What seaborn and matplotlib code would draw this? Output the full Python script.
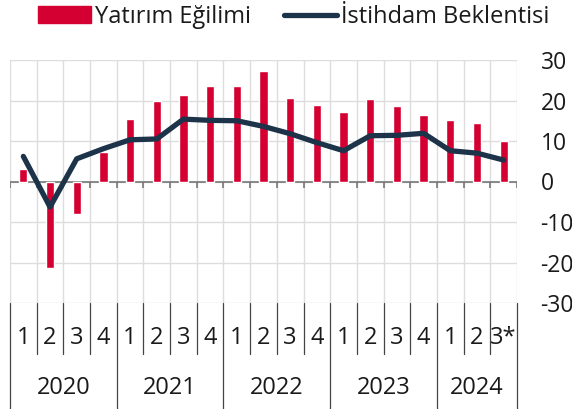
import matplotlib
matplotlib.use('Agg')
import matplotlib.pyplot as plt
from matplotlib.patches import Patch
from matplotlib.lines import Line2D
import numpy as np
import pandas as pd
import seaborn as sns

# data
years = ['2020', '2021', '2022', '2023', '2024']
quarters_per_year = [4, 4, 4, 4, 3]
quarter_labels = ['1', '2', '3', '4', '1', '2', '3', '4', '1', '2', '3', '4',
                  '1', '2', '3', '4', '1', '2', '3*']
yatirim = [3.0, -21.4, -8.0, 7.2, 15.4, 20.0, 21.4, 23.7, 23.6, 27.4, 20.7,
           18.9, 17.1, 20.4, 18.6, 16.5, 15.1, 14.5, 10.0]
istihdam = [6.2, -6.3, 5.6, 8.1, 10.3, 10.5, 15.4, 15.1, 15.0, 13.6, 11.8,
            9.6, 7.6, 11.3, 11.4, 11.9, 7.6, 7.0, 5.3]

RED = '#d50032'
NAVY = '#1c3349'
GRID = '#dddddd'
TXT = '#1a1a1a'

period = []
for y, n in zip(years, quarters_per_year):
    period += [f'{y}-{q}' for q in range(1, n + 1)]
df = pd.DataFrame({'donem': period, 'yatirim': yatirim, 'istihdam': istihdam})

sns.set_style('white')
plt.rcParams['font.family'] = ['Open Sans', 'DejaVu Sans']
plt.rcParams['axes.unicode_minus'] = False

fig = plt.figure(figsize=(5.72, 4.09), dpi=100)
ax = fig.add_axes([10 / 572, 106 / 409, 507 / 572, 243 / 409])

sns.barplot(data=df, x='donem', y='yatirim', color=RED, saturation=1,
            width=0.31, ax=ax, zorder=3)
sns.lineplot(data=df, x='donem', y='istihdam', color=NAVY, lw=3.8,
             sort=False, ax=ax, zorder=4, solid_capstyle='round',
             solid_joinstyle='round')

n = len(df)
bounds = np.arange(n + 1) - 0.5
ax.set_xlim(-0.5, n - 0.5)
ax.set_ylim(-30, 30)
ax.set_xticks([])
ax.set_xticks(bounds, minor=True)
ax.set_yticks(range(-30, 31, 10))
ax.yaxis.tick_right()
ax.tick_params(axis='y', length=0, pad=17, labelsize=16.5, labelcolor=TXT)
ax.tick_params(axis='x', which='both', length=0)
ax.grid(axis='x', which='minor', color=GRID, lw=1)
ax.grid(axis='y', which='major', color=GRID, lw=1)
ax.set_axisbelow(True)
for s in ax.spines.values():
    s.set_visible(False)
ax.set_xlabel('')
ax.set_ylabel('')

ax.axhline(0, color='#777777', lw=1.2, zorder=2)
ax.vlines(bounds, -1.7, 0, color='#777777', lw=1.2, zorder=2)

# two-level category axis below the plot
trans = ax.get_xaxis_transform()
year_bounds = np.concatenate([[0], np.cumsum(quarters_per_year)]) - 0.5
for b in bounds:
    bottom = -0.436 if b in year_bounds else -0.21
    ax.plot([b, b], [0, bottom], color='#444444', lw=0.9, transform=trans,
            clip_on=False)
for i, q in enumerate(quarter_labels):
    ax.text(i, -0.144, q, transform=trans, ha='center', va='center',
            fontsize=17, color=TXT)
for y, lo, hi in zip(years, year_bounds[:-1], year_bounds[1:]):
    ax.text((lo + hi) / 2, -0.35, y, transform=trans, ha='center',
            va='center', fontsize=17, color=TXT)

handles = [Patch(color=RED, label='Yatırım Eğilimi'),
           Line2D([], [], color=NAVY, lw=3.8, solid_capstyle='round',
                  label='İstihdam Beklentisi')]
fig.legend(handles=handles, loc='center', bbox_to_anchor=(294 / 572, 1 - 17 / 409),
           ncol=2, frameon=False, fontsize=17, handlelength=2.25,
           handletextpad=0.17, columnspacing=1.4, labelcolor=TXT,
           borderpad=0, borderaxespad=0)

fig.savefig('out.png', dpi=100)
